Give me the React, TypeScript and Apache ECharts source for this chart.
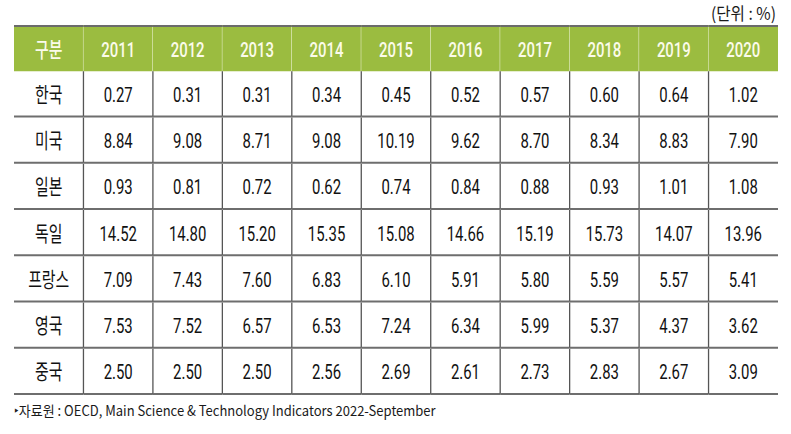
import React, { useEffect, useRef } from "react";
import * as echarts from "echarts";

const headerLabel = "구분";
const years = ["2011", "2012", "2013", "2014", "2015", "2016", "2017", "2018", "2019", "2020"];
const countries = ["한국", "미국", "일본", "독일", "프랑스", "영국", "중국"];
const korea = [0.27, 0.31, 0.31, 0.34, 0.45, 0.52, 0.57, 0.6, 0.64, 1.02];
const usa = [8.84, 9.08, 8.71, 9.08, 10.19, 9.62, 8.7, 8.34, 8.83, 7.9];
const japan = [0.93, 0.81, 0.72, 0.62, 0.74, 0.84, 0.88, 0.93, 1.01, 1.08];
const germany = [14.52, 14.8, 15.2, 15.35, 15.08, 14.66, 15.19, 15.73, 14.07, 13.96];
const france = [7.09, 7.43, 7.6, 6.83, 6.1, 5.91, 5.8, 5.59, 5.57, 5.41];
const uk = [7.53, 7.52, 6.57, 6.53, 7.24, 6.34, 5.99, 5.37, 4.37, 3.62];
const china = [2.5, 2.5, 2.5, 2.56, 2.69, 2.61, 2.73, 2.83, 2.67, 3.09];
const unitText = "(단위 : %)";
const sourceText = "‣자료원 : OECD, Main Science & Technology Indicators 2022-September";

const rows = [korea, usa, japan, germany, france, uk, china];

const FONT = "Roboto, 'Noto Sans CJK KR', sans-serif";
const FONT_KR = "'Noto Sans CJK KR', 'Noto Sans', sans-serif";
const GREEN = "#9bbc40";
const SX = 0.71;

export default function App() {
  const ref = useRef<HTMLDivElement>(null);
  useEffect(() => {
    if (!ref.current) return;
    const chart = echarts.init(ref.current, null, { renderer: "svg" });
    const colCats = [headerLabel, ...years];
    const rowCats = ["header", ...countries];
    const data: any[] = [];
    colCats.forEach((c, ci) => {
      data.push([ci, 0, c]);
    });
    countries.forEach((name, ri) => {
      data.push([0, ri + 1, name]);
      rows[ri].forEach((v, ci) => {
        data.push([ci + 1, ri + 1, v.toFixed(2)]);
      });
    });
    const nCols = colCats.length;
    const option: any = {
      animation: false,
      grid: { left: 14, right: 13, top: 25, bottom: 39 },
      xAxis: { type: "category", data: colCats, show: false },
      yAxis: { type: "category", data: rowCats, inverse: true, show: false },
      series: [
        {
          type: "custom",
          data,
          encode: { x: 0, y: 1 },
          renderItem: (params: any, api: any) => {
            const c = api.value(0);
            const r = api.value(1);
            const text = data[params.dataIndex][2];
            const center = api.coord([c, r]);
            const size = api.size([1, 1]);
            const w = size[0];
            const h = size[1];
            const x0 = center[0] - w / 2;
            const y0 = center[1] - h / 2;
            const x1 = x0 + w;
            const y1 = y0 + h;
            const children: any[] = [];
            const isHeader = r === 0;
            if (isHeader) {
              children.push({
                type: "rect",
                shape: { x: x0, y: y0, width: w, height: h },
                style: { fill: GREEN },
              });
              children.push({
                type: "line",
                shape: { x1: x0, y1: y0 + 1, x2: x1, y2: y0 + 1 },
                style: { stroke: "#6b6b6b", lineWidth: 2 },
              });
              if (c < nCols - 1) {
                children.push({
                  type: "line",
                  shape: { x1: x1, y1: y0 + 2, x2: x1, y2: y1 },
                  style: { stroke: "#eef3d6", lineWidth: 1 },
                });
              }
            } else {
              children.push({
                type: "line",
                shape: { x1: x0, y1: y1 - 1, x2: x1, y2: y1 - 1 },
                style: { stroke: "#6e6e6e", lineWidth: 2 },
              });
              if (c < nCols - 1) {
                children.push({
                  type: "line",
                  shape: { x1: x1, y1: y0, x2: x1, y2: y1 - 1 },
                  style: { stroke: "#555555", lineWidth: 1.3 },
                });
              }
            }
            children.push({
              type: "text",
              x: center[0],
              y: center[1] + (isHeader ? 1 : 0),
              scaleX: SX,
              style: {
                text,
                x: 0,
                y: 0,
                align: "center",
                verticalAlign: "middle",
                fontFamily: FONT,
                fontSize: 21,
                fontWeight: isHeader ? 500 : "normal",
                fill: isHeader ? "#fbfbea" : "#111111",
              },
            });
            return { type: "group", children };
          },
        },
      ],
      graphic: [
        {
          type: "text",
          x: 776,
          y: 13,
          scaleX: 0.92,
          style: {
            text: unitText,
            align: "right",
            verticalAlign: "middle",
            fontFamily: FONT_KR,
            fontSize: 17,
            fill: "#1a1a1a",
          },
        },
        {
          type: "text",
          x: 14,
          y: 410,
          scaleX: 0.93,
          style: {
            text: sourceText,
            align: "left",
            verticalAlign: "middle",
            fontFamily: FONT_KR,
            fontSize: 14,
            fill: "#1a1a1a",
          },
        },
      ],
    };
    chart.setOption(option);
    return () => chart.dispose();
  }, []);
  return (
    <div
      ref={ref}
      style={{ position: "fixed", left: 0, top: 0, width: 791, height: 434, background: "#ffffff" }}
    />
  );
}
